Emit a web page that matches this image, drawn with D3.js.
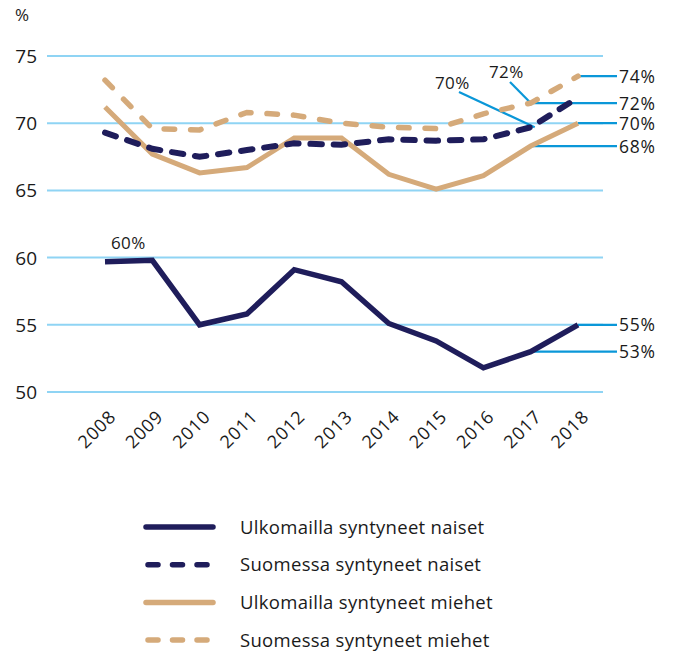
<!DOCTYPE html>
<html>
<head>
<meta charset="utf-8">
<script src="https://cdn.jsdelivr.net/npm/d3@7"></script>
<style>
  body { margin: 0; background: #fff; }
  svg text { font-family: "Open Sans", sans-serif; fill: #1a1a1a; }
</style>
</head>
<body>
<div id="chart"></div>
<script>
const years = [2008, 2009, 2010, 2011, 2012, 2013, 2014, 2015, 2016, 2017, 2018];
const yTicks = [50, 55, 60, 65, 70, 75];

const ulkoNaiset = [59.7, 59.8, 55.0, 55.8, 59.1, 58.2, 55.1, 53.8, 51.8, 53.0, 55.0];
const suomiNaiset = [69.3, 68.1, 67.5, 68.0, 68.5, 68.4, 68.8, 68.7, 68.8, 69.7, 71.9];
const ulkoMiehet = [71.2, 67.7, 66.3, 66.7, 68.9, 68.9, 66.2, 65.1, 66.1, 68.3, 70.0];
const suomiMiehet = [73.2, 69.6, 69.5, 70.8, 70.6, 70.0, 69.7, 69.6, 70.7, 71.5, 73.5];

const seriesNames = [
  "Ulkomailla syntyneet naiset",
  "Suomessa syntyneet naiset",
  "Ulkomailla syntyneet miehet",
  "Suomessa syntyneet miehet"
];

// right-side labels: [year the leader starts at, value, label]
const rightLabels = [
  [2018, 73.5, "74%"],
  [2017, 71.5, "72%"],
  [2018, 70.0, "70%"],
  [2017, 68.3, "68%"],
  [2018, 55.0, "55%"],
  [2017, 53.0, "53%"]
];
// callouts above: [year, value, label]
const topLabels = [
  [2017, 69.7, "70%"],
  [2017, 71.5, "72%"]
];

const navy = "#1f1d5b", tan = "#d5aa7a", grid = "#8fd4f4", lead = "#0a97d8";

const W = 677, H = 653;
const svg = d3.select("#chart").append("svg").attr("width", W).attr("height", H);

const x = d3.scaleLinear().domain([2008, 2018]).range([105, 578]);
const y = d3.scaleLinear().domain([50, 75]).range([392, 56]);

// grid
svg.append("g").selectAll("line").data(yTicks).join("line")
  .attr("x1", 47).attr("x2", 603)
  .attr("y1", d => y(d)).attr("y2", d => y(d))
  .attr("stroke", grid).attr("stroke-width", 2);

svg.append("g").selectAll("text").data(yTicks).join("text")
  .attr("x", 37).attr("y", d => y(d) + 7)
  .attr("text-anchor", "end").attr("font-size", 19)
  .text(d => d);

svg.append("text").attr("x", 15).attr("y", 21).attr("font-size", 17).text("%");

// x labels
svg.append("g").selectAll("text").data(years).join("text")
  .attr("transform", d => `translate(${x(d) + 12},${418}) rotate(-45)`)
  .attr("text-anchor", "end").attr("font-size", 18)
  .attr("letter-spacing", 0.8)
  .text(d => d);

// leader lines
const leaders = svg.append("g").attr("stroke", lead).attr("stroke-width", 2.2);
rightLabels.forEach(([yr, v, t]) => {
  leaders.append("line")
    .attr("x1", x(yr)).attr("x2", 617)
    .attr("y1", y(v)).attr("y2", y(v));
  svg.append("text").attr("x", 619).attr("y", y(v) + 6.5)
    .attr("font-size", 17.5).attr("letter-spacing", 0.7).text(t);
});
leaders.append("line")
  .attr("x1", 459).attr("y1", 92)
  .attr("x2", x(topLabels[0][0]) + 4).attr("y2", y(topLabels[0][1]));
leaders.append("line")
  .attr("x1", 510).attr("y1", 82)
  .attr("x2", x(topLabels[1][0])).attr("y2", y(topLabels[1][1]));
svg.append("text").attr("x", 435).attr("y", 89).attr("font-size", 17).attr("letter-spacing", 0.4).text(topLabels[0][2]);
svg.append("text").attr("x", 489).attr("y", 78).attr("font-size", 17).attr("letter-spacing", 0.4).text(topLabels[1][2]);
svg.append("text").attr("x", 111).attr("y", 249).attr("font-size", 17).attr("letter-spacing", 0.4).text("60%");

// lines
const line = d3.line().x((d, i) => x(years[i])).y(d => y(d));
const styles = [
  { data: ulkoNaiset, color: navy, dash: null, w: 5.5 },
  { data: suomiNaiset, color: navy, dash: "11.5 11.8", w: 6 },
  { data: ulkoMiehet, color: tan, dash: null, w: 5 },
  { data: suomiMiehet, color: tan, dash: "10.5 16", w: 5.5 }
];
[3, 2, 1, 0].forEach(i => {
  const s = styles[i];
  svg.append("path").datum(s.data)
    .attr("d", line)
    .attr("fill", "none")
    .attr("stroke", s.color)
    .attr("stroke-width", s.w)
    .attr("stroke-linecap", s.dash ? "round" : "butt")
    .attr("stroke-linejoin", "miter")
    .attr("stroke-dasharray", s.dash);
});

// legend
const leg = svg.append("g").selectAll("g").data(styles).join("g")
  .attr("transform", (d, i) => `translate(0,${527 + i * 37.7})`);
leg.append("line")
  .attr("x1", d => d.dash ? 148 : 146).attr("x2", 213)
  .attr("stroke", d => d.color).attr("stroke-width", 5.5)
  .attr("stroke-linecap", "round")
  .attr("stroke-dasharray", d => d.dash ? "10 14.5" : null);
leg.append("text").attr("x", 240).attr("y", 6.5).attr("font-size", 18.5)
  .attr("letter-spacing", 0.3)
  .text((d, i) => seriesNames[i]);
</script>
</body>
</html>
